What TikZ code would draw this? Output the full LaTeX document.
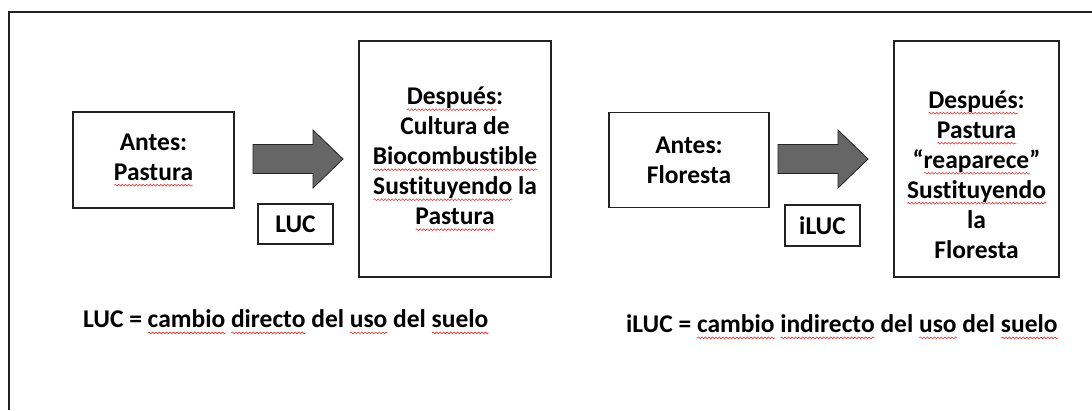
\documentclass[tikz,border=0pt]{standalone}
\usepackage{fontspec}
\setmainfont[Ligatures=NoCommon]{Carlito}
\usetikzlibrary{positioning,decorations.pathmorphing}
\definecolor{arrowgray}{RGB}{102,102,102}
\definecolor{linegray}{RGB}{35,35,35}
\definecolor{wavered}{RGB}{230,50,50}
% red spell-check wave under a word
\newcommand{\redwave}[1]{\setbox0\hbox{#1}\leavevmode\rlap{\tikz[baseline=0pt,x=1pt,y=1pt]\draw[wavered, line width=0.6pt, decorate, decoration={snake, amplitude=0.9pt, segment length=3.5pt}] (0pt,-5pt) -- (\the\wd0,-5pt);}\box0\relax}
\tikzset{
  txt/.style={font=\fontsize{25.5}{30}\selectfont\bfseries, align=center, inner sep=0pt},
  box/.style={txt, draw=linegray, line width=1.2pt},
  blockarrow/.style={draw=linegray, line width=0.8pt, fill=arrowgray, line join=miter}
}
\begin{document}
\begin{tikzpicture}[x=1pt,y=-1pt]
	\useasboundingbox (0,0) rectangle (1092,410);
	%% outer frame, only top and left edges show
	\draw[linegray, line width=1.2pt] (9,410) -- (9,12) -- (1092,12);
	%% left half: LUC
	\node[box, minimum width=161pt, minimum height=96pt] (antesA) at (153.5,160) {Antes:\\\redwave{Pastura}};
	\node[box, minimum width=192pt, minimum height=236pt] (despA) at (455,159) {\redwave{Después}:\\Cultura de\\\redwave{Biocombustible}\\\redwave{Sustituyendo} la\\\redwave{Pastura}};
	\node[box, minimum width=75pt, minimum height=40pt] (luc) at (295.5,224) {LUC};
	\coordinate (arrA) at (253,159);
	\draw[blockarrow, shift={(arrA)}] (0,-14.5) -- (60,-14.5) -- (60,-29) -- (90,0) -- (60,29) -- (60,14.5) -- (0,14.5) -- cycle;
	\node[txt, anchor=west] (lucdef) at (83,322) {LUC = \redwave{cambio} \redwave{directo} del \redwave{uso} del \redwave{suelo}};
	%% right half: iLUC
	\node[box, minimum width=160pt, minimum height=95pt] (antesB) at (689,160) {Antes:\\Floresta};
	\node[box, minimum width=165pt, minimum height=236pt] (despB) at (976.5,159) {};
	\node[txt] (despBtext) at ([yshift=-15.5pt]despB.center) {\redwave{Después}:\\\redwave{Pastura}\\“\redwave{reaparece}”\\\redwave{Sustituyendo}\\la\\Floresta};
	\node[box, minimum width=75pt, minimum height=41pt] (iluc) at (822.5,225.5) {iLUC};
	\coordinate (arrB) at (778,159);
	\draw[blockarrow, shift={(arrB)}] (0,-14.5) -- (60,-14.5) -- (60,-29) -- (90,0) -- (60,29) -- (60,14.5) -- (0,14.5) -- cycle;
	\node[txt, anchor=west] (ilucdef) at (626,327) {iLUC = \redwave{cambio} \redwave{indirecto} del \redwave{uso} del \redwave{suelo}};
\end{tikzpicture}
\end{document}
